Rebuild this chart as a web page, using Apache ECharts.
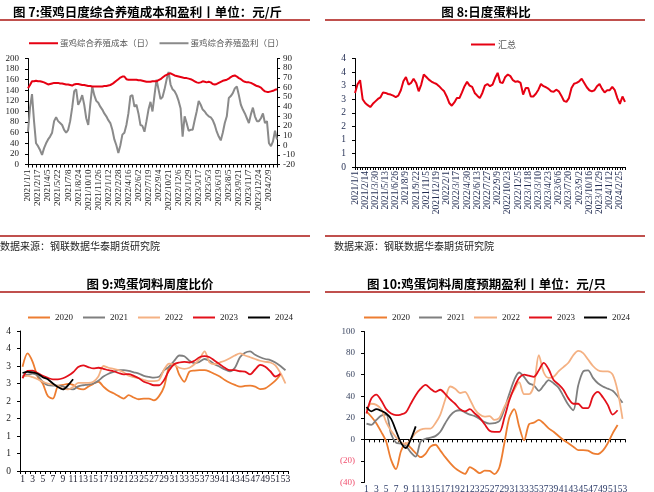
<!DOCTYPE html>
<html><head><meta charset="utf-8">
<script src="https://cdn.jsdelivr.net/npm/echarts/dist/echarts.min.js"></script>
<style>html,body{margin:0;padding:0;background:#fff}#c{width:654px;height:492px}</style>
</head><body><div id="c"></div>
<script>
// ---------- 图7 data (sampled ~every 9 days, 5 points per tick label) ----------
const labels7 = ['2021/1/1','2021/2/17','2021/4/5','2021/5/22','2021/7/8','2021/8/24','2021/10/10','2021/11/26','2022/1/12','2022/2/28','2022/4/16','2022/6/2','2022/7/19','2022/9/4','2022/10/21','2022/12/6','2023/1/29','2023/3/17','2023/5/3','2023/6/19','2023/8/5','2023/9/21','2023/11/7','2023/12/24','2024/2/9'];
const cost7 = [144,150,157,157,158,157,157,156,155,153, 151,152,153,154,154,154,153,153,152,151,
  151,150,149,151,152,152,151,150,150,149, 148,148,147,147,147,147,147,147,148,148,
  149,150,152,155,158,161,164,166,166,161, 160,160,160,160,160,159,159,158,157,156,
  156,156,157,157,157,159,161,164,167,169, 171,172,170,168,167,166,165,164,163,163,
  162,161,159,157,155,154,155,157,156,155, 156,155,152,151,152,154,156,158,159,160,
  162,165,167,168,166,163,161,158,156,155, 155,154,152,150,148,147,145,141,138,137,
  137,138,139,141,142];
const profit7 = [14,39,53,25,2,-1,-5,-10,-3,2, 6,9,13,25,29,25,23,21,16,13,
  16,25,39,56,58,42,46,52,42,28, 21,42,61,52,46,44,40,37,33,30,
  26,23,16,6,0,-8,0,11,13,21, 33,51,52,40,42,33,21,20,14,25,
  37,45,35,52,68,58,48,50,58,68, 76,63,58,56,52,46,38,9,30,23,
  15,16,16,26,35,46,42,37,35,32, 30,29,26,21,14,9,5,13,23,30,
  49,51,54,59,61,52,42,37,33,28, 23,32,39,30,25,25,28,33,23,25,
  2,-1,4,15,6];
// ---------- 图8 data (4 points per tick label) ----------
const labels8 = ['2021/1/1','2021/2/14','2021/3/30','2021/5/13','2021/6/26','2021/8/9','2021/9/22','2021/11/5','2021/12/19','2022/2/1','2022/3/17','2022/4/30','2022/6/13','2022/7/27','2022/9/9','2022/10/23','2022/12/5','2023/1/18','2023/3/10','2023/4/23','2023/6/6','2023/7/20','2023/9/2','2023/10/16','2023/11/29','2024/1/12','2024/2/25'];
const ratio8 = [2.73,3.05,3.2,2.5,2.36,2.28,2.21,2.33,2.42,2.51,
  2.57,2.75,2.73,2.69,2.67,2.63,2.58,2.63,2.83,3.16,
  3.32,3.04,3.1,3.25,3.1,2.79,3.04,3.41,3.32,3.22,
  3.15,3.1,3.06,2.98,2.88,2.79,2.6,2.36,2.26,2.38,
  2.54,2.54,2.75,2.98,3.14,3.0,2.95,2.73,2.63,2.54,
  2.73,3.0,3.06,2.98,3.04,3.28,3.47,3.12,3.1,3.32,
  3.41,3.35,3.2,3.14,3.16,3.1,2.67,2.91,2.91,2.6,
  2.6,2.7,2.85,3.06,2.98,2.94,2.88,2.79,2.77,2.85,
  2.79,2.63,2.44,2.4,2.54,2.91,3.07,3.1,3.16,3.25,
  3.1,2.94,2.83,2.79,2.83,2.98,3.06,2.88,2.75,2.83,
  2.83,2.95,2.83,2.54,2.33,2.6,2.4];
// ---------- 图9 / 图10 weekly data ----------
const weeks = Array.from({length:53},(_,i)=>String(i+1));
const years = ['2020','2021','2022','2023','2024'];
const ratio9_2020 = [2.98,3.36,3.12,2.69,2.5,2.14,2.07,2.43,2.46,2.49,2.46,2.36,2.33,2.41,2.49,2.55,2.41,2.29,2.22,2.14,2.07,2.17,2.1,2.05,2.07,2.07,2.02,2.14,2.41,2.98,3.07,2.75,2.55,2.84,2.87,2.88,2.88,2.84,2.77,2.7,2.6,2.52,2.46,2.41,2.43,2.44,2.41,2.34,2.36,2.46,2.58,2.75];
const ratio9_2021 = [2.72,2.75,2.78,2.72,2.55,2.45,2.44,2.44,2.42,2.35,2.33,2.42,2.45,2.47,2.5,2.58,2.7,2.78,2.83,2.88,2.88,2.86,2.82,2.78,2.72,2.69,2.67,2.69,2.88,2.98,3.15,3.3,3.28,3.15,3.08,3.12,3.2,3.15,3.05,2.98,2.9,2.85,2.95,3.25,3.38,3.42,3.32,3.25,3.2,3.17,3.1,3.0,2.88];
const ratio9_2022 = [2.7,2.72,2.68,2.62,2.55,2.5,2.47,2.43,2.35,2.33,2.4,2.52,2.52,2.52,2.55,2.7,3.0,2.95,2.92,2.88,2.82,2.72,2.68,2.65,2.6,2.57,2.57,2.6,2.9,3.07,3.03,2.95,2.92,2.95,3.05,3.2,3.42,3.1,3.05,3.1,3.15,3.22,3.3,3.36,3.3,3.25,3.2,3.15,3.12,3.1,3.02,2.8,2.5];
const ratio9_2023 = [2.65,2.86,2.87,2.8,2.72,2.66,2.62,2.62,2.65,2.72,2.82,2.97,3.02,2.97,2.93,2.95,2.92,2.88,2.85,2.8,2.76,2.77,2.72,2.65,2.55,2.5,2.45,2.45,2.6,2.88,3.05,3.1,3.12,3.1,3.15,3.25,3.28,3.25,3.15,3.05,2.95,2.88,2.88,2.85,2.84,2.76,2.9,3.03,2.98,2.85,2.7,2.78];
const ratio9_2024 = [2.8,2.83,2.82,2.78,2.68,2.62,2.5,2.4,2.33,2.45,2.62];
const profit10_2020 = [26,21,15,7,-2,-19,-27.6,-11,-3.6,-8,-12.8,-16.5,-13.4,-6.7,-5,-10.4,-16.5,-22,-26.7,-29.8,-32,-25.8,-28.3,-31.4,-28.9,-29.2,-32.3,-25.8,-3.6,20,28,12,-1,14,15.5,18,14.8,10.2,7.1,3.1,-0.6,-3.7,-6.8,-9.9,-9.9,-10.5,-13,-13.6,-10.5,-3.6,5.6,13.3];
const profit10_2021 = [14.6,13.5,18,22,23,5,-3,-4,-6,-12,-16,-2,0.5,1.5,3,7,15,22,26,27,25,23,21.5,19,16,14.6,15,17,28,42,55,62,58,52,50,45,50,55,52,48,40,32,27,50,63,64,57,52,49,47,45,40,34];
const profit10_2022 = [27,33,32,28,16,8,2,-3,-4.5,0,6,9,10,10,15,23,37,49,47,43,44,37,28,23,21,21.5,18,20,30,38,46,53,42,42,50,78,62,57,58,63,67,71,78,82,80,74,68,64,63,63,60,45,19];
const profit10_2023 = [24,38,41.5,36,28,24,22.5,23,25,33,41,47,50.5,47,44,46,42,37,33,28,26,28,24,20,14,8,7,7,20,36,48,57,60,59,58,64,71,65,55,51,46,38,33,33,29,29,40,44,39,32,23,27];
const profit10_2024 = [30,26,28,26.5,24,19,8,-3,-8,0,12];

const cat7 = cost7.map((_,i)=>String(i));
const cat8 = ratio8.map((_,i)=>String(i));

const SERIF = '"Liberation Serif","Noto Sans CJK SC"';
const CJK = '"Noto Sans CJK SC"';
const yColors = {'2020':'#ED7D31','2021':'#7F7F7F','2022':'#F4B183','2023':'#E3101A','2024':'#000000'};

function valAxis(gi, min, max, interval, extra){
  return Object.assign({type:'value', gridIndex:gi, min, max, interval,
    axisLine:{show:true, lineStyle:{color:'#000', width:1}},
    axisTick:{show:true, length:3, lineStyle:{color:'#000'}},
    splitLine:{show:false},
    axisLabel:{fontFamily:SERIF, fontSize:9, color:'#222', margin:9}}, extra||{});
}

const series = [
  {name:'蛋鸡综合养殖成本（日）', type:'line', xAxisIndex:0, yAxisIndex:0, data:cost7, symbol:'none', lineStyle:{color:'#E60012', width:2}, itemStyle:{color:'#E60012'}, z:3},
  {name:'蛋鸡综合养殖盈利（日）', type:'line', xAxisIndex:0, yAxisIndex:1, data:profit7, symbol:'none', lineStyle:{color:'#8A8A8A', width:2}, itemStyle:{color:'#8A8A8A'}, z:2},
  {name:'汇总', type:'line', xAxisIndex:1, yAxisIndex:2, data:ratio8, symbol:'none', lineStyle:{color:'#E60012', width:2}, itemStyle:{color:'#E60012'}}
];
const d9 = [ratio9_2020, ratio9_2021, ratio9_2022, ratio9_2023, ratio9_2024];
const d10 = [profit10_2020, profit10_2021, profit10_2022, profit10_2023, profit10_2024];
years.forEach((y,k)=>{
  series.push({name:y, type:'line', xAxisIndex:2, yAxisIndex:3, data:d9[k], symbol:'none', smooth:0.3,
    lineStyle:{color:yColors[y], width:1.8}, itemStyle:{color:yColors[y]}});
});
years.forEach((y,k)=>{
  series.push({name:y, type:'line', xAxisIndex:3, yAxisIndex:4, data:d10[k], symbol:'none', smooth:0.3,
    lineStyle:{color:yColors[y], width:1.8}, itemStyle:{color:yColors[y]}});
});

const sepColor = '#C0504D';
const srcText = '数据来源：钢联数据华泰期货研究院';
function line(x1,y1,x2,y2){return {type:'line', shape:{x1,y1,x2,y2}, style:{stroke:sepColor, lineWidth:2}, silent:true};}
function txt(x,y,text,font,fill,align){return {type:'text', x, y, style:{text, font, fill, align:align||'left', verticalAlign:'middle'}, silent:true};}

const option = {
  animation:false,
  backgroundColor:'#fff',
  grid:[
    {left:28, top:58.5, width:249, height:106, outerBoundsMode:'none', containLabel:false},
    {left:355, top:58.5, width:270, height:108.5, outerBoundsMode:'none', containLabel:false},
    {left:20, top:331, width:268, height:140, outerBoundsMode:'none', containLabel:false},
    {left:364, top:331.5, width:261, height:151, outerBoundsMode:'none', containLabel:false}
  ],
  xAxis:[
    {type:'category', gridIndex:0, data:cat7, boundaryGap:false,
      axisLine:{lineStyle:{color:'#000'}}, axisTick:{show:true, interval:1, length:3, lineStyle:{color:'#000'}},
      axisLabel:{interval:4, rotate:90, margin:5, fontFamily:SERIF, fontSize:9, color:'#222',
        formatter:(v,i)=>labels7[Math.round(i/5)]||''}},
    {type:'category', gridIndex:1, data:cat8, boundaryGap:false,
      axisLine:{lineStyle:{color:'#000'}}, axisTick:{show:true, interval:0, length:3, lineStyle:{color:'#000'}},
      axisLabel:{interval:3, rotate:90, margin:4, fontFamily:SERIF, fontSize:9.5, color:'#1F2A50',
        formatter:(v,i)=>labels8[Math.round(i/4)]||''}},
    {type:'category', gridIndex:2, data:weeks, boundaryGap:true,
      axisLine:{lineStyle:{color:'#000'}}, axisTick:{show:true, interval:0, length:3, lineStyle:{color:'#000'}},
      axisLabel:{interval:1, margin:4, fontFamily:SERIF, fontSize:9.5, color:'#1a1a2a'}},
    {type:'category', gridIndex:3, data:weeks, boundaryGap:true,
      axisLine:{onZero:true, lineStyle:{color:'#000'}}, axisTick:{show:true, interval:0, length:3, lineStyle:{color:'#000'}},
      axisLabel:{interval:1, margin:2, fontFamily:SERIF, fontSize:9.5, color:'#2B3A67'}}
  ],
  yAxis:[
    valAxis(0, 0, 200, 20, {position:'left', axisLabel:{fontFamily:SERIF, fontSize:9, color:'#222', margin:9}}),
    valAxis(0, -20, 90, 10, {position:'right', axisLabel:{fontFamily:SERIF, fontSize:9, color:'#222', margin:6}}),
    valAxis(1, 0, 4, 0.5, {axisLabel:{fontFamily:SERIF, fontSize:9.5, color:'#1F2A50', margin:9, formatter:v=>String(Math.round(v))}}),
    valAxis(2, 0, 4, 0.5, {axisLabel:{fontFamily:SERIF, fontSize:9.5, color:'#222', margin:9, formatter:v=>String(Math.round(v))}}),
    valAxis(3, -40, 100, 20, {axisLabel:{fontFamily:SERIF, fontSize:9, margin:9,
      color:(v)=>Number(v)<0?'#F0506E':'#3A4560',
      formatter:v=>v<0?'('+(-v)+')':String(v)}})
  ],
  legend:[
    {left:24, top:34, icon:'rect', itemWidth:29, itemHeight:2, itemGap:6, data:['蛋鸡综合养殖成本（日）','蛋鸡综合养殖盈利（日）'],
      textStyle:{fontFamily:CJK, fontSize:8.5, color:'#595959', padding:[0,0,0,-3]}},
    {left:466, top:35, icon:'rect', itemWidth:24, itemHeight:2, data:['汇总'],
      textStyle:{fontFamily:CJK, fontSize:9, color:'#595959', padding:[0,0,0,-2]}},
    {left:23, top:308, icon:'rect', itemWidth:22, itemHeight:2, itemGap:10, data:years,
      textStyle:{fontFamily:SERIF, fontSize:9, color:'#222'}},
    {left:359, top:308, icon:'rect', itemWidth:23, itemHeight:2, itemGap:9, data:years,
      textStyle:{fontFamily:SERIF, fontSize:9, color:'#222'}}
  ],
  graphic:[
    txt(13, 12, '图 7:蛋鸡日度综合养殖成本和盈利丨单位：元/斤', 'bold 12.5px "Noto Sans CJK SC"', '#000'),
    txt(486, 12, '图 8:日度蛋料比', 'bold 12.5px "Noto Sans CJK SC"', '#000', 'center'),
    txt(150, 284, '图 9:鸡蛋饲料周度比价', 'bold 12.5px "Noto Sans CJK SC"', '#000', 'center'),
    txt(486.5, 284, '图 10:鸡蛋饲料周度预期盈利丨单位：元/只', 'bold 12.5px "Noto Sans CJK SC"', '#000', 'center'),
    line(0,20,310,20), line(325,20,645,20),
    line(0,236,310,236), line(325,236,645,236),
    line(0,292,310,292), line(325,292,645,292),
    txt(0, 246, srcText, '10px "Noto Sans CJK SC"', '#222'),
    txt(334, 246, srcText, '10px "Noto Sans CJK SC"', '#222')
  ],
  series
};
const chart = echarts.init(document.getElementById('c'), null, {renderer:'canvas'});
chart.setOption(option);
</script></body></html>
